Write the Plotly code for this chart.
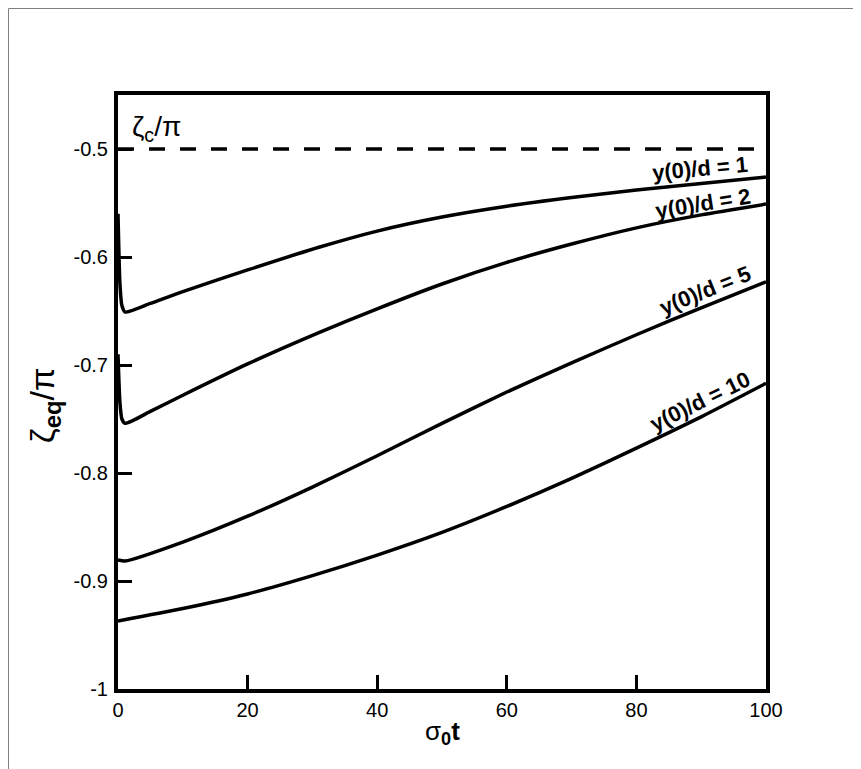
import plotly.graph_objects as go

# ---- data ----
t1 = [0, 0.3, 0.6, 1.1, 5, 10, 20, 31, 40, 50, 60, 70, 80, 90, 100]
z1 = [-0.56, -0.625, -0.645, -0.651, -0.643, -0.632, -0.612, -0.591, -0.576,
      -0.563, -0.553, -0.545, -0.538, -0.532, -0.526]

t2 = [0, 0.3, 0.6, 1.1, 5, 10, 20, 31, 40, 50, 60, 70, 80, 90, 100]
z2 = [-0.69, -0.735, -0.75, -0.754, -0.743, -0.728, -0.699, -0.670, -0.648,
      -0.625, -0.605, -0.588, -0.573, -0.561, -0.551]

t5 = [0, 1.1, 10, 20, 30, 40, 50, 60, 70, 80, 90, 100]
z5 = [-0.8805, -0.8815, -0.864, -0.840, -0.813, -0.784, -0.754, -0.725,
      -0.698, -0.672, -0.647, -0.623]

t10 = [0, 10, 20, 30, 40, 50, 60, 70, 80, 90, 100]
z10 = [-0.937, -0.9255, -0.912, -0.895, -0.876, -0.855, -0.831, -0.805,
       -0.777, -0.748, -0.717]

zeta_c = -0.5
t_range = [0, 100]

labels = ["y(0)/d = 1", "y(0)/d = 2", "y(0)/d = 5", "y(0)/d = 10"]
label_t = [89.8, 90.3, 90.6, 89.8]
label_z = [-0.5176, -0.550, -0.6306, -0.734]
label_angle = [-5, -9, -22, -26]

x_ticks = [0, 20, 40, 60, 80, 100]
y_ticks = [-1, -0.9, -0.8, -0.7, -0.6, -0.5]
y_ticktext = ["-1", "-0.9", "-0.8", "-0.7", "-0.6", "-0.5"]

FONT = "Liberation Sans, Arial, sans-serif"

fig = go.Figure()

for tt, zz in [(t1, z1), (t2, z2), (t5, z5), (t10, z10)]:
    fig.add_trace(go.Scatter(x=tt, y=zz, mode="lines",
                             line=dict(color="black", width=3.5, shape="spline",
                                       smoothing=0.6),
                             showlegend=False, hoverinfo="skip"))

fig.add_trace(go.Scatter(x=t_range, y=[zeta_c, zeta_c], mode="lines",
                         line=dict(color="black", width=3.5, dash="16px,15px"),
                         showlegend=False, hoverinfo="skip"))

for txt, xx, yy, ang in zip(labels, label_t, label_z, label_angle):
    fig.add_annotation(x=xx, y=yy, text="<b>%s</b>" % txt, showarrow=False,
                       textangle=ang, font=dict(family=FONT, size=22, color="black"),
                       xanchor="center", yanchor="middle")

fig.add_annotation(x=1.8, y=-0.481, text="ζ<sub>c</sub>/π", showarrow=False,
                   xanchor="left", yanchor="middle",
                   font=dict(family=FONT, size=28, color="black"))

# axis titles
fig.add_annotation(xref="paper", yref="paper", x=-0.114, y=0.478,
                   text="ζ<sub><b>eq</b></sub>/π", showarrow=False, textangle=-90,
                   xanchor="center", yanchor="middle",
                   font=dict(family=FONT, size=34, color="black"))
fig.add_annotation(xref="paper", yref="paper", x=0.5, y=-0.074,
                   text="σ<sub><b>0</b></sub><b>t</b>", showarrow=False,
                   xanchor="center", yanchor="middle",
                   font=dict(family=FONT, size=26, color="black"))

# outer figure frame (partially visible)
fig.add_shape(type="rect", xref="paper", yref="paper",
              x0=-0.169, x1=1.3, y0=-0.3, y1=1.1456,
              line=dict(color="#808080", width=1), fillcolor="rgba(0,0,0,0)",
              layer="below")

fig.update_xaxes(range=[0, 100], tickvals=x_ticks, ticks="inside", ticklen=14,
                 tickwidth=2.5, tickcolor="black", showline=True, linewidth=4,
                 linecolor="black", mirror=True, showgrid=False, zeroline=False,
                 tickfont=dict(family=FONT, size=20, color="black"))
fig.update_yaxes(range=[-1, -0.45], tickvals=y_ticks, ticktext=y_ticktext,
                 ticks="inside", ticklen=14, tickwidth=2.5, tickcolor="black",
                 showline=True, linewidth=4, linecolor="black", mirror=True,
                 showgrid=False, zeroline=False, ticklabelstandoff=2,
                 tickfont=dict(family=FONT, size=20, color="black"))

fig.update_layout(width=853, height=761, plot_bgcolor="white", paper_bgcolor="white",
                  margin=dict(l=110, r=95, t=87, b=80), showlegend=False)

fig.write_html("out.html")
